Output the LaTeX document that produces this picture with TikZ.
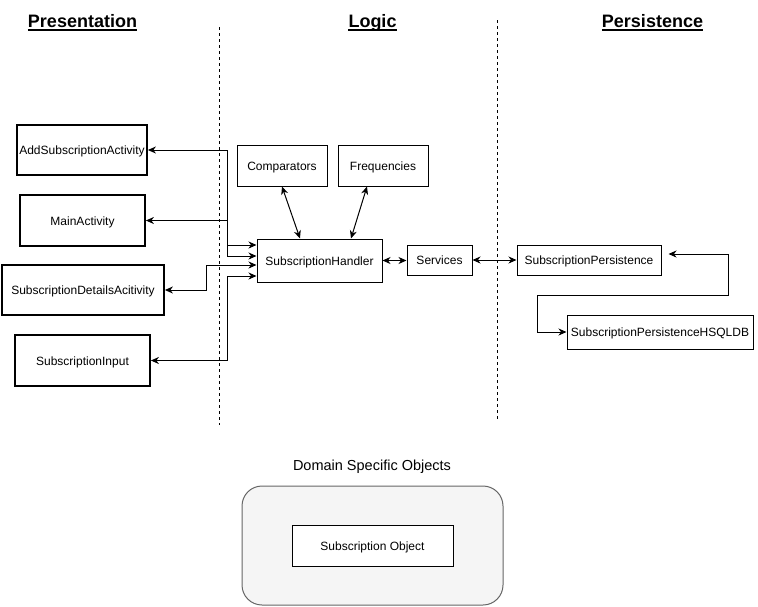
\documentclass[tikz,border=0pt]{standalone}
\usepackage{fontspec}
\setmainfont{Liberation Sans}
\usetikzlibrary{arrows.meta}
\definecolor{dsfill}{HTML}{F5F5F5}
\definecolor{dsdraw}{HTML}{666666}
\begin{document}
\begin{tikzpicture}[x=1pt,y=-1pt,
  every node/.style={font=\fontsize{12}{14}\selectfont, inner sep=0pt, text height=10.2pt, text depth=0.6pt},
  pbox/.style={draw, line width=1.8pt, fill=white},
  lbox/.style={draw, line width=1pt, fill=white},
  arr/.style={line width=1pt, {Stealth[length=8pt,width=7pt,inset=2.5pt]}-{Stealth[length=8pt,width=7pt,inset=2.5pt]}},
  sep/.style={line width=1pt, dash pattern=on 3pt off 3pt},
  hdr/.style={font=\bfseries\fontsize{18}{21}\selectfont, text height=13pt, text depth=0pt},
  uline/.style={line width=1.8pt}]
\useasboundingbox (0,0) rectangle (758,606);

% headers
\node[hdr, anchor=base] (hp) at (82.5,27) {Presentation};
\node[hdr, anchor=base] (hl) at (372.5,27) {Logic};
\node[hdr, anchor=base] (hs) at (652.5,27) {Persistence};
\foreach \h in {hp,hl,hs}
  \draw[uline] ([yshift=-3pt]\h.base west) -- ([yshift=-3pt]\h.base east);

% separators
\coordinate (s1a) at (219,27); \coordinate (s1b) at (219,425);
\coordinate (s2a) at (497,20); \coordinate (s2b) at (497,420);
\draw[sep] (s1a) -- (s1b);
\draw[sep] (s2a) -- (s2b);

% presentation
\node[pbox, minimum width=130pt, minimum height=50pt] (add) at (82,150) {AddSubscriptionActivity};
\node[pbox, minimum width=125pt, minimum height=51pt] (main) at (82.5,220.5) {MainActivity};
\node[pbox, minimum width=162pt, minimum height=50pt] (det) at (83,290) {SubscriptionDetailsAcitivity};
\node[pbox, minimum width=135pt, minimum height=51pt] (inp) at (82.5,360.5) {SubscriptionInput};

% logic
\node[lbox, minimum width=90pt, minimum height=41pt] (comp) at (282,165.5) {Comparators};
\node[lbox, minimum width=90pt, minimum height=41pt] (freq) at (383,165.5) {Frequencies};
\node[lbox, minimum width=125pt, minimum height=43pt] (hand) at (319.5,260.5) {SubscriptionHandler};
\node[lbox, minimum width=65pt, minimum height=30pt] (serv) at (439.5,260) {Services};

% persistence
\node[lbox, minimum width=144pt, minimum height=30pt] (pers) at (589,260) {SubscriptionPersistence};
\node[lbox, minimum width=186pt, minimum height=34pt] (hsql) at (660,332) {SubscriptionPersistenceHSQLDB};

% domain
\node[draw=dsdraw, fill=dsfill, line width=1pt, rounded corners=20pt, minimum width=261pt, minimum height=119pt] (dom) at (372.5,545.5) {};
\node[font=\fontsize{14.5}{17}\selectfont, text height=10.6pt, text depth=1.4pt] (domt) at (372,466) {Domain Specific Objects};
\node[lbox, minimum width=161pt, minimum height=41pt] (obj) at (372.5,545.5) {Subscription Object};

% connectors presentation <-> handler
\draw[arr] ([yshift=15.5pt]hand.west) -- ++(-29,0) |- (add.east);
\draw[arr] ([yshift=4.5pt]hand.west) -- ++(-29,0) |- (main.east);
\draw[arr] ([yshift=-4.5pt]hand.west) -- ++(-50,0) |- (det.east);
\draw[arr] ([yshift=-15.5pt]hand.west) -- ++(-29,0) |- (inp.east);

% logic connectors
\draw[arr] ([xshift=-19.5pt]hand.north) -- (comp.south);
\draw[arr] ([xshift=31.5pt]hand.north) -- ([xshift=-16pt]freq.south);
\draw[arr] (hand.east) -- (hand.east -| serv.west);
\draw[arr] (serv.east) -- (pers.west);

% persistence connector
\coordinate (b1) at (728,295);
\coordinate (b2) at (537,295);
\draw[arr] ([shift={(7pt,6pt)}]pers.east) -| (b1) -- (b2) |- (hsql.west);
\end{tikzpicture}
\end{document}
